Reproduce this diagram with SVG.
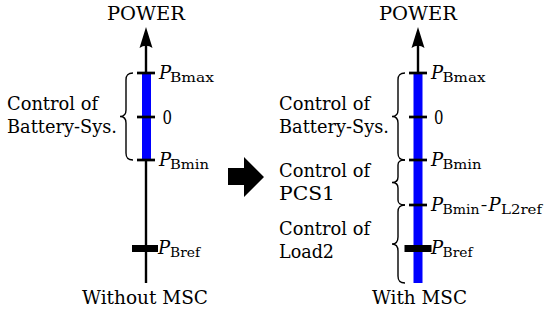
<svg xmlns="http://www.w3.org/2000/svg" width="544" height="322" viewBox="0 0 544 322">
<style>
text{font-family:"DejaVu Serif","Liberation Serif",serif;fill:#000}
.t{font-size:18px}
.i{font-size:18px;font-style:italic}
.s{font-size:13px}
.ax{stroke:#000;stroke-width:2.4;fill:none}
.tk{stroke:#000;stroke-width:2.7}
.br{stroke:#000;stroke-width:1.4;fill:none}
.blue{fill:#0000ff}
</style>
<defs>
<path id="ah" d="M0,0 L6.5,21 Q0,16.5 -6.5,21 Z" fill="#000"/>
</defs>

<g id="connectors">
  <line class="ax" x1="146" y1="283" x2="146" y2="40"/>
  <use href="#ah" x="146" y="27"/>
  <line class="ax" x1="418" y1="283" x2="418" y2="40"/>
  <use href="#ah" x="418" y="27"/>
  <polygon id="big-arrow" points="228,168 244,168 244,157 264,177 244,197 244,185 228,185" fill="#000"/>
</g>

<g id="left-axis">
  <text class="t" x="146" y="20" text-anchor="middle" textLength="78" lengthAdjust="spacingAndGlyphs">POWER</text>
  <rect class="blue" x="142" y="73" width="9" height="87"/>
  <line class="tk" x1="137" y1="73" x2="155" y2="73"/>
  <line class="tk" x1="137" y1="117" x2="155" y2="117"/>
  <line class="tk" x1="137" y1="160" x2="155" y2="160"/>
  <rect x="132" y="245" width="26" height="7" fill="#000"/>
  <text class="t" x="145" y="304" text-anchor="middle" textLength="126" lengthAdjust="spacingAndGlyphs">Without MSC</text>
</g>

<g id="left-labels">
  <text class="i" x="159" y="79">P</text><text class="s" x="170" y="82" textLength="44" lengthAdjust="spacingAndGlyphs">Bmax</text>
  <text class="t" x="162.5" y="124" textLength="9.5" lengthAdjust="spacingAndGlyphs">0</text>
  <text class="i" x="159" y="166">P</text><text class="s" x="170" y="169" textLength="39" lengthAdjust="spacingAndGlyphs">Bmin</text>
  <text class="i" x="158" y="254">P</text><text class="s" x="170" y="257" textLength="30" lengthAdjust="spacingAndGlyphs">Bref</text>
</g>

<g id="left-battery">
  <path class="br" d="M133,73 C127,73 126,76 126,80 L126,110 C126,114 124,116.5 120,116.5 C124,116.5 126,119 126,123 L126,153 C126,157 127,160 133,160"/>
  <text class="t" x="7" y="110" textLength="91" lengthAdjust="spacingAndGlyphs">Control of</text>
  <text class="t" x="7" y="133" textLength="110" lengthAdjust="spacingAndGlyphs">Battery-Sys.</text>
</g>

<g id="right-axis">
  <text class="t" x="418" y="20" text-anchor="middle" textLength="78" lengthAdjust="spacingAndGlyphs">POWER</text>
  <rect class="blue" x="413.5" y="73" width="9" height="210"/>
  <line class="tk" x1="409" y1="73" x2="427" y2="73"/>
  <line class="tk" x1="409" y1="117" x2="427" y2="117"/>
  <line class="tk" x1="409" y1="160" x2="427" y2="160"/>
  <line class="tk" x1="409" y1="205" x2="427" y2="205"/>
  <rect x="404.5" y="245" width="27" height="7" fill="#000"/>
  <text class="t" x="419.5" y="304" text-anchor="middle" textLength="95" lengthAdjust="spacingAndGlyphs">With MSC</text>
</g>

<g id="right-labels">
  <text class="i" x="431" y="79">P</text><text class="s" x="442.5" y="82" textLength="43" lengthAdjust="spacingAndGlyphs">Bmax</text>
  <text class="t" x="434" y="124" textLength="9.5" lengthAdjust="spacingAndGlyphs">0</text>
  <text class="i" x="431" y="166">P</text><text class="s" x="442.5" y="169" textLength="39" lengthAdjust="spacingAndGlyphs">Bmin</text>
  <text class="i" x="431" y="211">P</text><text class="s" x="442.5" y="214" textLength="37" lengthAdjust="spacingAndGlyphs">Bmin</text>
  <text class="t" x="481" y="211" textLength="6" lengthAdjust="spacingAndGlyphs">–</text>
  <text class="i" x="488.5" y="211">P</text><text class="s" x="501" y="214" textLength="41" lengthAdjust="spacingAndGlyphs">L2ref</text>
  <text class="i" x="431" y="254">P</text><text class="s" x="442.5" y="257" textLength="30" lengthAdjust="spacingAndGlyphs">Bref</text>
</g>

<g id="right-battery">
  <path class="br" d="M405,73 C399,73 398,76 398,80 L398,110 C398,114 396,116.5 392,116.5 C396,116.5 398,119 398,123 L398,153 C398,157 399,160 405,160"/>
  <text class="t" x="279" y="110" textLength="91" lengthAdjust="spacingAndGlyphs">Control of</text>
  <text class="t" x="279" y="133" textLength="110" lengthAdjust="spacingAndGlyphs">Battery-Sys.</text>
</g>

<g id="right-pcs1">
  <path class="br" d="M405,160 C399,160 398,162 398,165 L398,177 C398,180 396,182.5 392,182.5 C396,182.5 398,185 398,188 L398,200 C398,203 399,205 405,205"/>
  <text class="t" x="279" y="177" textLength="91" lengthAdjust="spacingAndGlyphs">Control of</text>
  <text class="t" x="279" y="200" textLength="56" lengthAdjust="spacingAndGlyphs">PCS1</text>
</g>

<g id="right-load2">
  <path class="br" d="M405,205 C399,205 398,208 398,212 L398,237 C398,241 396,244 392,244 C396,244 398,247 398,251 L398,276 C398,280 399,283 405,283"/>
  <text class="t" x="279" y="235" textLength="91" lengthAdjust="spacingAndGlyphs">Control of</text>
  <text class="t" x="279" y="258" textLength="55" lengthAdjust="spacingAndGlyphs">Load2</text>
</g>
</svg>
